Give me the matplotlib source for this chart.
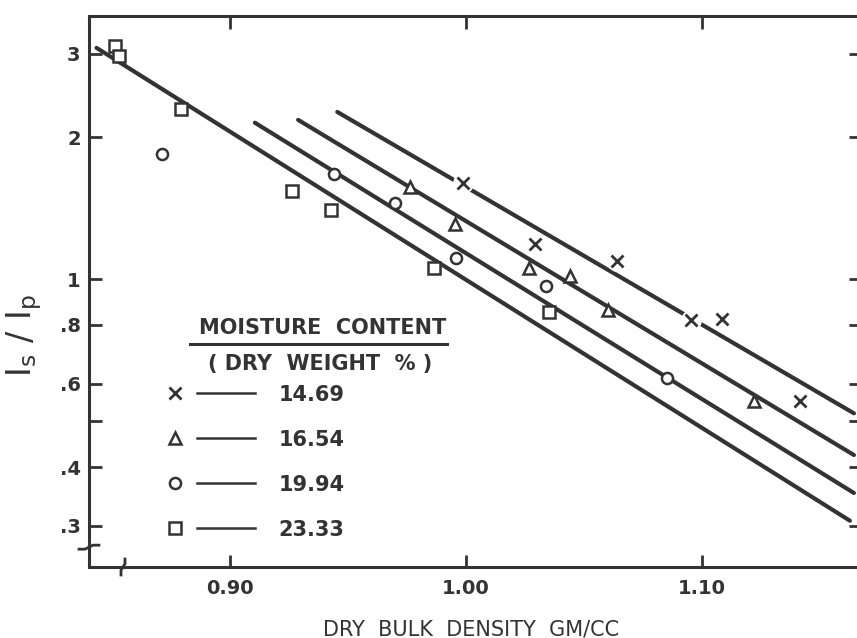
import numpy as np
import matplotlib
matplotlib.use('Agg')
import matplotlib.pyplot as plt
from matplotlib.lines import Line2D
from matplotlib.legend_handler import HandlerTuple
from matplotlib.ticker import NullLocator

INK = '#333333'

# moisture content (dry weight %)
moisture = ['14.69', '16.54', '19.94', '23.33']
markers = ['x', '^', 'o', 's']

# measured points: dry bulk density (gm/cc) and Is/Ip
dens_1469 = [0.9987, 1.0292, 1.0640, 1.0955, 1.1087, 1.1417]
ratio_1469 = [1.595, 1.19, 1.093, 0.819, 0.822, 0.551]
dens_1654 = [0.9765, 0.9953, 1.0267, 1.0439, 1.0602, 1.1222]
ratio_1654 = [1.568, 1.306, 1.054, 1.018, 0.860, 0.551]
dens_1994 = [0.8714, 0.9439, 0.9701, 0.9958, 1.0339, 1.0852]
ratio_1994 = [1.84, 1.67, 1.45, 1.109, 0.967, 0.617]
dens_2333 = [0.8513, 0.8530, 0.8792, 0.9263, 0.9428, 0.9864, 1.0350]
ratio_2333 = [3.12, 2.97, 2.29, 1.54, 1.40, 1.056, 0.854]

# fitted lines (end points)
fit_dens = [[0.9455, 1.1644], [0.9289, 1.1644], [0.9106, 1.1644], [0.8435, 1.1627]]
fit_ratio = [[2.261, 0.5198], [2.175, 0.4241], [2.145, 0.3524], [3.09, 0.3078]]

xticks = [0.90, 1.00, 1.10]
xlabels = ['0.90', '1.00', '1.10']
yticks = [3, 2, 1, 0.8, 0.6, 0.5, 0.4, 0.3]
ylabels = ['3', '2', '1', '.8', '.6', '', '.4', '.3']

dens = [dens_1469, dens_1654, dens_1994, dens_2333]
ratio = [ratio_1469, ratio_1654, ratio_1994, ratio_2333]

plt.rcParams['font.family'] = ['DejaVu Sans']
plt.rcParams['font.weight'] = 'bold'

fig = plt.figure(figsize=(8.57, 6.38), dpi=100)
W, H = 857, 638
ax = fig.add_axes([89 / W, 1 - 567 / H, (861 - 89) / W, (567 - 16) / H])
ax.set_yscale('log')
ax.set_xlim(0.8403, 1.1674)
ax.set_ylim(0.2456, 3.61)

for i in range(4):
    ax.plot(fit_dens[i], fit_ratio[i], color=INK, lw=3, solid_capstyle='round', zorder=2)

# crosses break the line they sit on
ax.plot(dens_1469, ratio_1469, ls='none', marker='o', ms=15, mfc='white', mec='none', zorder=3)

for i in range(4):
    if markers[i] == 'x':
        ax.plot(dens[i], ratio[i], ls='none', marker='x', ms=8.5, mew=2, color=INK, zorder=4)
    else:
        ms = {'^': 9, 'o': 8, 's': 9}[markers[i]]
        ax.plot(dens[i], ratio[i], ls='none', marker=markers[i], ms=ms, mew=1.8,
                mec=INK, mfc='white', zorder=4)

ax.yaxis.set_minor_locator(NullLocator())
ax.xaxis.set_minor_locator(NullLocator())
ax.set_xticks(xticks)
ax.set_xticklabels(xlabels)
ax.set_yticks(yticks)
ax.set_yticklabels(ylabels)
ax.tick_params(axis='both', direction='in', length=9, width=2, colors=INK,
               labelsize=14, top=True, right=True)
ax.tick_params(axis='x', pad=9)
ax.tick_params(axis='y', pad=6)
for sp in ax.spines.values():
    sp.set_linewidth(2.2)
    sp.set_color(INK)

ax.set_xlabel('DRY  BULK  DENSITY  GM/CC', fontsize=15, color=INK)
ax.xaxis.set_label_coords(0.495, -0.095)
ax.set_ylabel(r'$\mathregular{I_s\ /\ I_p}$', fontsize=24, color=INK)
ax.yaxis.set_label_coords(-0.058, 0.42)

# axis break marks
bx = np.array([-10, -4, 0, 4, 10]) / 772
by = np.array([-2, -2, 0, 2, 2]) / 551
ax.plot(0 + bx, 0.036 + by, color=INK, lw=2, transform=ax.transAxes, clip_on=False, zorder=5)
ax.plot((123 - 89) / 772 + by * 551 / 772, 0 + bx * 772 / 551 * 0.8, color=INK, lw=2,
        transform=ax.transAxes, clip_on=False, zorder=5)

# legend
ax.text(0.302, 0.434, 'MOISTURE  CONTENT', transform=ax.transAxes, ha='center',
        va='center', fontsize=15, color=INK)
ax.plot([0.131, 0.464], [0.405, 0.405], color=INK, lw=2.2, transform=ax.transAxes)
ax.text(0.299, 0.368, '( DRY  WEIGHT  % )', transform=ax.transAxes, ha='center',
        va='center', fontsize=15, color=INK)

handles = []
for i in range(4):
    if markers[i] == 'x':
        mk = Line2D([], [], ls='none', marker='x', ms=8, mew=2, color=INK)
    else:
        mk = Line2D([], [], ls='none', marker=markers[i], ms=8, mew=1.8, mec=INK, mfc='white')
    ln = Line2D([], [], color=INK, lw=1.8)
    handles.append((mk, ln))

leg = ax.legend(handles, moisture, handler_map={tuple: HandlerTuple(ndivide=None, pad=-0.34)},
                loc='upper left', bbox_to_anchor=(0.074, 0.331), frameon=False,
                fontsize=15, handlelength=5.24, handletextpad=1.1, labelspacing=1.2,
                borderpad=0, borderaxespad=0)
for t in leg.get_texts():
    t.set_color(INK)

fig.savefig('out.png', dpi=100, facecolor='white')
